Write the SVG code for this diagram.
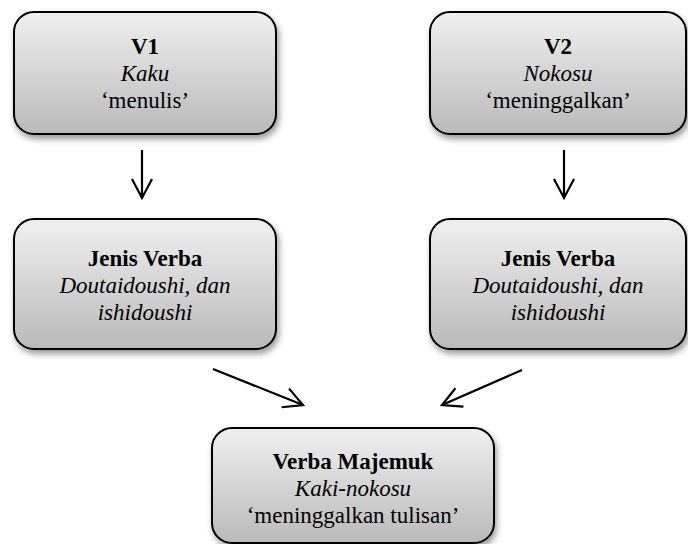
<svg xmlns="http://www.w3.org/2000/svg" width="688" height="544" viewBox="0 0 688 544">
<defs>
<linearGradient id="g" x1="0" y1="0" x2="0" y2="1">
<stop offset="0" stop-color="#f0f0f0"/>
<stop offset="1" stop-color="#bababa"/>
</linearGradient>
<filter id="sh" x="-10%" y="-10%" width="125%" height="130%">
<feDropShadow dx="2" dy="4" stdDeviation="3" flood-color="#000" flood-opacity="0.4"/>
</filter>
<marker id="ah" markerUnits="userSpaceOnUse" viewBox="0 0 24 24" markerWidth="24" markerHeight="24" refX="21" refY="12" orient="auto">
<path d="M2,2 L21,12 L2,22" fill="none" stroke="#000" stroke-width="2.2"/>
</marker>
<style>
.box{fill:url(#g);stroke:#000;stroke-width:2;filter:url(#sh)}
text{font-family:"Liberation Serif","Times New Roman",serif;font-size:23px;text-anchor:middle;fill:#000}
.b{font-weight:bold}
.i{font-style:italic}
.c{stroke:#000;stroke-width:2.2;fill:none;marker-end:url(#ah)}
</style>
</defs>
<g id="v1">
<rect class="box" x="14" y="12" width="262" height="122" rx="20"/>
<text class="b" x="145" y="54">V1</text>
<text class="i" x="145" y="81">Kaku</text>
<text x="145" y="108">‘menulis’</text>
</g>
<g id="v2">
<rect class="box" x="430" y="12" width="256" height="122" rx="20"/>
<text class="b" x="558" y="54">V2</text>
<text class="i" x="558" y="81">Nokosu</text>
<text x="558" y="108">‘meninggalkan’</text>
</g>
<g id="jenis1">
<rect class="box" x="14" y="219" width="262" height="130" rx="20"/>
<text class="b" x="145" y="266">Jenis Verba</text>
<text class="i" x="145" y="293">Doutaidoushi, dan</text>
<text class="i" x="145" y="320">ishidoushi</text>
</g>
<g id="jenis2">
<rect class="box" x="430" y="219" width="256" height="130" rx="20"/>
<text class="b" x="558" y="266">Jenis Verba</text>
<text class="i" x="558" y="293">Doutaidoushi, dan</text>
<text class="i" x="558" y="320">ishidoushi</text>
</g>
<g id="majemuk">
<rect class="box" x="212" y="428" width="282" height="115" rx="20"/>
<text class="b" x="353" y="469">Verba Majemuk</text>
<text class="i" x="353" y="496">Kaki-nokosu</text>
<text x="353" y="523">‘meninggalkan tulisan’</text>
</g>
<g id="connectors">
<line class="c" x1="142" y1="150" x2="142" y2="198"/>
<line class="c" x1="564" y1="150" x2="564" y2="198"/>
<line class="c" x1="213" y1="369" x2="303" y2="405"/>
<line class="c" x1="522" y1="370" x2="442" y2="405"/>
</g>
</svg>
